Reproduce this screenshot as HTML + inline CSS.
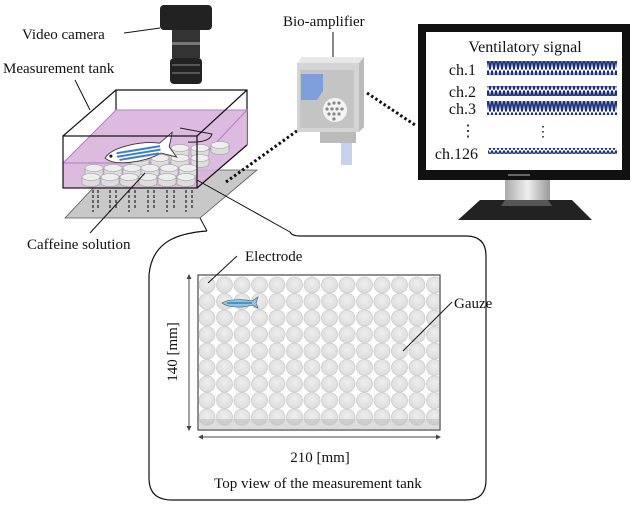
<!DOCTYPE html>
<html><head><meta charset="utf-8"><style>
html,body{margin:0;padding:0;background:#fff;}
svg{display:block;}
text{font-family:"Liberation Serif",serif;fill:#111;}
</style></head><body>
<svg width="633" height="506" viewBox="0 0 633 506" xmlns="http://www.w3.org/2000/svg">
<defs>
<pattern id="w1" width="4" height="14" patternUnits="userSpaceOnUse"><path d="M0,0.5 L2,13.5 L4,0.5" fill="none" stroke="#1c2f78" stroke-width="1.8"/></pattern>
<pattern id="w2" width="4" height="10" patternUnits="userSpaceOnUse"><path d="M0,0.5 L2,9.5 L4,0.5" fill="none" stroke="#1c2f78" stroke-width="1.8"/></pattern>
<pattern id="w3" width="4" height="6" patternUnits="userSpaceOnUse"><path d="M0,0.5 L2,5.5 L4,0.5" fill="none" stroke="#1c2f78" stroke-width="1.5"/></pattern>
<linearGradient id="neck" x1="0" x2="1"><stop offset="0" stop-color="#aaa"/><stop offset=".5" stop-color="#eee"/><stop offset="1" stop-color="#999"/></linearGradient>
<radialGradient id="cell" cx=".5" cy=".4" r=".6"><stop offset="0" stop-color="#eee"/><stop offset="1" stop-color="#dcdcdc"/></radialGradient>
<g id="cy"><path d="M-9,0 v6 a9,3.5 0 0 0 18,0 v-6"/><ellipse cx="0" cy="0" rx="9" ry="3.5" fill="#eee"/></g>
<g id="row">
<circle cx="207" cy="0" r="8"/><circle cx="224.5" cy="0" r="8"/><circle cx="242" cy="0" r="8"/><circle cx="259.5" cy="0" r="8"/><circle cx="277" cy="0" r="8"/><circle cx="294.5" cy="0" r="8"/><circle cx="312" cy="0" r="8"/><circle cx="329.5" cy="0" r="8"/><circle cx="347" cy="0" r="8"/><circle cx="364.5" cy="0" r="8"/><circle cx="382" cy="0" r="8"/><circle cx="399.5" cy="0" r="8"/><circle cx="417" cy="0" r="8"/><circle cx="434.5" cy="0" r="8"/>
</g>
<clipPath id="tc"><rect x="199" y="276" width="240" height="153"/></clipPath>
</defs>

<!-- camera -->
<rect x="160" y="5" width="52" height="25" rx="4" fill="#222"/>
<rect x="172" y="30" width="28" height="28" fill="#333"/>
<rect x="172" y="42" width="28" height="3" fill="#777"/>
<rect x="170" y="58" width="32" height="26" rx="4" fill="#222"/>
<rect x="172" y="64" width="28" height="2" fill="#555"/>
<rect x="172" y="72" width="28" height="2" fill="#555"/>
<text x="22" y="39" font-size="15">Video camera</text>
<line x1="124" y1="33" x2="160" y2="28" stroke="#111"/>
<text x="3" y="73" font-size="15">Measurement tank</text>
<line x1="75" y1="80" x2="90" y2="110" stroke="#111"/>

<!-- gray plate -->
<polygon points="65,218 200,218 257,170 110,170" fill="#c8c8c8" stroke="#555" stroke-width="0.8"/>
<g stroke="#222" stroke-width="1.2" stroke-dasharray="3,2">
<line x1="93" y1="190" x2="93" y2="212"/><line x1="98" y1="190" x2="98" y2="208"/>
<line x1="110" y1="190" x2="110" y2="212"/><line x1="116" y1="190" x2="116" y2="208"/>
<line x1="129" y1="190" x2="129" y2="212"/><line x1="135" y1="190" x2="135" y2="208"/>
<line x1="148" y1="190" x2="148" y2="212"/><line x1="154" y1="190" x2="154" y2="208"/>
<line x1="167" y1="190" x2="167" y2="212"/><line x1="174" y1="190" x2="174" y2="208"/>
<line x1="186" y1="190" x2="186" y2="212"/><line x1="192" y1="190" x2="192" y2="208"/>
</g>

<!-- tank back edges -->
<polyline points="116,110 116,90 247,90 247,145" fill="none" stroke="#111" stroke-width="1.2"/>
<!-- water -->
<polygon points="63,163 116,110 247,110 247,145 197,188 63,188" fill="#d9b3dc" opacity="0.9"/>
<polyline points="63,163 116,110 247,110 197,163 63,163" fill="none" stroke="#b37fc0" stroke-width="1"/>
<line x1="197" y1="163" x2="197" y2="188" stroke="#b37fc0"/>
<!-- cylinders -->
<g fill="#ddd" stroke="#999" stroke-width="0.6">
<use href="#cy" x="160" y="148"/><use href="#cy" x="180" y="148"/><use href="#cy" x="200" y="148"/><use href="#cy" x="220" y="145"/>
<use href="#cy" x="140" y="158"/><use href="#cy" x="160" y="158"/><use href="#cy" x="180" y="158"/><use href="#cy" x="200" y="158"/>
<use href="#cy" x="94" y="168"/><use href="#cy" x="113" y="168"/><use href="#cy" x="132" y="168"/><use href="#cy" x="150" y="168"/><use href="#cy" x="169" y="168"/><use href="#cy" x="188" y="168"/>
<use href="#cy" x="91" y="177"/><use href="#cy" x="110" y="177"/><use href="#cy" x="129" y="177"/><use href="#cy" x="148" y="177"/><use href="#cy" x="167" y="177"/><use href="#cy" x="186" y="177"/>
</g>
<!-- fish -->
<g transform="translate(104,150) rotate(-8)">
<path d="M0,8 C8,-2 38,-4 56,1 L70,-8 L65,6 L71,17 L56,11 C38,18 8,18 0,8 Z" fill="#fff" stroke="#333" stroke-width="0.9"/>
<path d="M12,5 L56,4 M12,8.5 L56,7.5 M14,12 L54,11" stroke="#3f7fc6" stroke-width="2"/>
<circle cx="6" cy="7" r="1.6" fill="#222"/>
</g>
<path d="M180,128 L212,134 Q210,143 188,142" fill="none" stroke="#222"/>
<!-- tank front -->
<rect x="63" y="136" width="134" height="52" fill="none" stroke="#111" stroke-width="1.2"/>
<line x1="63" y1="136" x2="116" y2="90" stroke="#111" stroke-width="1.2"/>
<line x1="197" y1="136" x2="247" y2="90" stroke="#111" stroke-width="1.2"/>
<line x1="197" y1="188" x2="247" y2="145" stroke="#111" stroke-width="1.2"/>

<text x="27" y="249" font-size="15">Caffeine solution</text>
<line x1="90" y1="233" x2="145" y2="173" stroke="#111"/>

<!-- dotted connections -->
<line x1="226" y1="182" x2="326" y2="110" stroke="#111" stroke-width="3" stroke-dasharray="2.5,2.5"/>
<line x1="367" y1="93" x2="415" y2="125" stroke="#111" stroke-width="3" stroke-dasharray="2.5,2.5"/>

<!-- bio-amplifier -->
<text x="283" y="26" font-size="15">Bio-amplifier</text>
<line x1="333" y1="32" x2="333" y2="57" stroke="#111"/>
<polygon points="297,63 302,57 364,57 359,63" fill="#e8e8e8"/>
<polygon points="359,63 364,57 364,127 359,132" fill="#bbb"/>
<rect x="297" y="63" width="62" height="69" fill="#d4d4d4"/>
<rect x="300" y="70" width="54" height="58" fill="#c4c4c4"/>
<path d="M301,74 h22 v17 l-6,9 h-16 z" fill="#7f9fdc"/>
<circle cx="335" cy="110" r="12" fill="#f4f4f4"/>
<g fill="#888"><circle cx="329" cy="104" r="1.6"/><circle cx="334" cy="103" r="1.6"/><circle cx="339" cy="103" r="1.6"/><circle cx="327" cy="109" r="1.6"/><circle cx="332" cy="109" r="1.6"/><circle cx="337" cy="109" r="1.6"/><circle cx="342" cy="109" r="1.6"/><circle cx="329" cy="114" r="1.6"/><circle cx="334" cy="114" r="1.6"/><circle cx="339" cy="114" r="1.6"/><circle cx="334" cy="119" r="1.6"/></g>
<rect x="320" y="132" width="36" height="11" fill="#bbb"/>
<rect x="341" y="143" width="11" height="22" fill="#c6d3ea"/>

<!-- monitor -->
<rect x="418" y="24" width="212" height="156" fill="#111"/>
<rect x="426" y="32" width="196" height="138" fill="#fff"/>
<rect x="508" y="174" width="22" height="2" fill="#666"/>
<rect x="505" y="180" width="45" height="22" fill="url(#neck)"/>
<polygon points="480,200 572,200 592,220 458,220" fill="#222"/>
<polygon points="505,200 548,200 552,206 501,206" fill="#555"/>
<text x="525" y="52" font-size="16" text-anchor="middle">Ventilatory signal</text>
<g font-size="16" text-anchor="end">
<text x="476" y="75">ch.1</text><text x="476" y="97">ch.2</text><text x="476" y="114">ch.3</text><text x="476" y="136">⋮</text><text x="478" y="159">ch.126</text>
</g>
<text x="543" y="136" font-size="14" text-anchor="middle">⋮</text>
<rect x="487" y="61" width="130" height="14" fill="url(#w1)"/>
<rect x="487" y="86" width="130" height="10" fill="url(#w2)"/>
<rect x="487" y="101" width="130" height="14" fill="url(#w1)"/>
<rect x="488" y="148" width="129" height="6" fill="url(#w3)"/>

<!-- callout -->
<line x1="197" y1="180" x2="290" y2="232" stroke="#111"/>
<line x1="200" y1="218" x2="207" y2="231" stroke="#111"/>
<path d="M207,231 C180,233 152,240 149,275 L149,478 Q149,500 172,500 L466,500 Q486,500 486,480 L486,256 Q486,236 466,236 L300,236 Q292,236 290,232" fill="none" stroke="#111" stroke-width="1.2"/>

<!-- top view -->
<rect x="198" y="275" width="242" height="155" fill="#fff" stroke="#555" stroke-width="1.3"/>
<g clip-path="url(#tc)" fill="url(#cell)" stroke="#ccc" stroke-width="0.8">
<use href="#row" y="285"/><use href="#row" y="301.5"/><use href="#row" y="318"/><use href="#row" y="334.5"/><use href="#row" y="351"/><use href="#row" y="367.5"/><use href="#row" y="384"/><use href="#row" y="400.5"/><use href="#row" y="417"/>
<rect x="199" y="419" width="240" height="10" fill="#bbb" opacity="0.5" stroke="none"/>
</g>
<g transform="translate(222,300)">
<path d="M0,3 C6,-1 22,-1 30,1 L36,-3 L34,3 L36,8 L30,5 C22,8 6,8 0,3 Z" fill="#8cc7ea" stroke="#555" stroke-width="0.6"/>
<path d="M5,3 L30,3" stroke="#2f6fb5" stroke-width="1.2"/>
</g>
<text x="245" y="261" font-size="15">Electrode</text>
<line x1="237" y1="256" x2="208" y2="283" stroke="#111"/>
<text x="454" y="308" font-size="15">Gauze</text>
<line x1="452" y1="302" x2="403" y2="351" stroke="#111"/>
<!-- dimensions -->
<line x1="189" y1="278" x2="189" y2="427" stroke="#444"/>
<polygon points="186.5,279 191.5,279 189,274" fill="#444"/><polygon points="186.5,426 191.5,426 189,431" fill="#444"/>
<line x1="202" y1="437" x2="437" y2="437" stroke="#444"/>
<polygon points="203,434.5 203,439.5 198,437" fill="#444"/><polygon points="436,434.5 436,439.5 441,437" fill="#444"/>
<text transform="translate(177,352) rotate(-90)" font-size="15" text-anchor="middle">140 [mm]</text>
<text x="320" y="462" font-size="15" text-anchor="middle">210 [mm]</text>
<text x="318" y="488" font-size="15" text-anchor="middle">Top view of the measurement tank</text>
</svg>
</body></html>
